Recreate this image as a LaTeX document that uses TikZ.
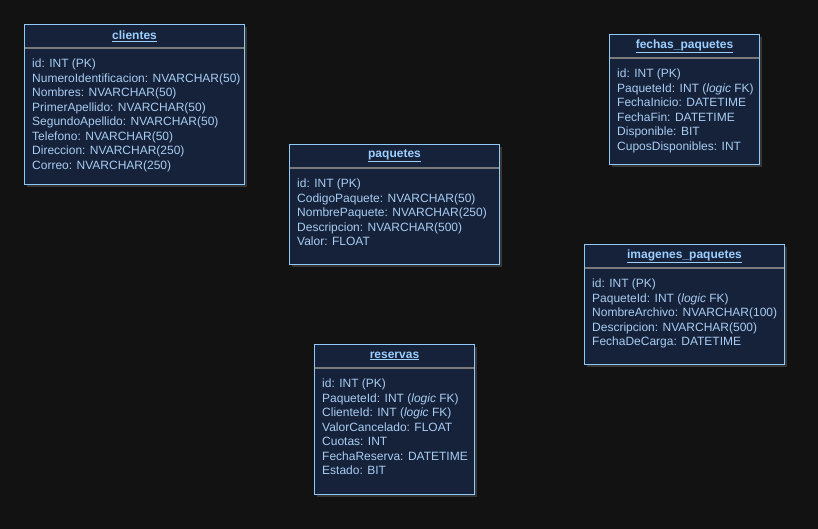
\documentclass[tikz,border=0pt]{standalone}
\usepackage{fontspec}
\setmainfont{Liberation Sans}
\usetikzlibrary{positioning,shadows,calc}
\definecolor{erBg}{HTML}{121212}
\definecolor{erFill}{HTML}{16223A}
\definecolor{erBorder}{HTML}{90CAF9}
\definecolor{erText}{HTML}{A8CCF2}
\definecolor{erTitleText}{HTML}{9CCFFF}
\definecolor{erSep}{HTML}{7A7A7A}
\definecolor{erShadow}{HTML}{3A3A3A}
\tikzset{
    erTable/.style={
        rectangle,
        draw=erBorder,
        line width=1pt,
        fill=erFill,
        anchor=north west,
        inner sep=0pt,
        drop shadow={shadow xshift=2.5pt, shadow yshift=-2.5pt, fill=erShadow, opacity=0.9}
    },
    erTitle/.style={font=\fontsize{12}{14}\selectfont\bfseries, text=erTitleText, inner sep=0pt},
    erRule/.style={draw=erSep, line width=1.2pt},
    erBody/.style={
        font=\fontsize{12}{14.5}\selectfont,
        text=erText,
        align=left,
        anchor=north west,
        inner sep=0pt
    }
}

\begin{document}
\begin{tikzpicture}[x=1pt, y=-1pt]
\fill[erBg] (0,0) rectangle (818,529);
\useasboundingbox (0,0) rectangle (818,529);

% clientes
\node[erTable, minimum width=220pt, minimum height=160pt] (clientes) at (24,24) {};
\node[erTitle] (clientesT) at ($(clientes.north)+(0,12)$) {\underline{clientes}};
\draw[erRule] ($(clientes.north west)+(1,24)$) -- ($(clientes.north east)+(-1,24)$);
\node[erBody] (clientesB) at ($(clientes.north west)+(8,35)$) {id: INT (PK)\\NumeroIdentificacion: NVARCHAR(50)\\Nombres: NVARCHAR(50)\\PrimerApellido: NVARCHAR(50)\\SegundoApellido: NVARCHAR(50)\\Telefono: NVARCHAR(50)\\Direccion: NVARCHAR(250)\\Correo: NVARCHAR(250)};

% paquetes
\node[erTable, minimum width=210pt, minimum height=120pt] (paquetes) at (289,144) {};
\node[erTitle] (paquetesT) at ($(paquetes.north)+(0,12)$) {\underline{paquetes}};
\draw[erRule] ($(paquetes.north west)+(1,24)$) -- ($(paquetes.north east)+(-1,24)$);
\node[erBody] (paquetesB) at ($(paquetes.north west)+(8,35)$) {id: INT (PK)\\CodigoPaquete: NVARCHAR(50)\\NombrePaquete: NVARCHAR(250)\\Descripcion: NVARCHAR(500)\\Valor: FLOAT};

% fechas_paquetes
\node[erTable, minimum width=150pt, minimum height=130pt] (fechas) at (609,34) {};
\node[erTitle] (fechasT) at ($(fechas.north)+(0,12)$) {\underline{fechas\_paquetes}};
\draw[erRule] ($(fechas.north west)+(1,24)$) -- ($(fechas.north east)+(-1,24)$);
\node[erBody] (fechasB) at ($(fechas.north west)+(8,35)$) {id: INT (PK)\\PaqueteId: INT (\textit{logic} FK)\\FechaInicio: DATETIME\\FechaFin: DATETIME\\Disponible: BIT\\CuposDisponibles: INT};

% imagenes_paquetes
\node[erTable, minimum width=200pt, minimum height=120pt] (imagenes) at (584,244) {};
\node[erTitle] (imagenesT) at ($(imagenes.north)+(0,12)$) {\underline{imagenes\_paquetes}};
\draw[erRule] ($(imagenes.north west)+(1,24)$) -- ($(imagenes.north east)+(-1,24)$);
\node[erBody] (imagenesB) at ($(imagenes.north west)+(8,35)$) {id: INT (PK)\\PaqueteId: INT (\textit{logic} FK)\\NombreArchivo: NVARCHAR(100)\\Descripcion: NVARCHAR(500)\\FechaDeCarga: DATETIME};

% reservas
\node[erTable, minimum width=160pt, minimum height=150pt] (reservas) at (314,344) {};
\node[erTitle] (reservasT) at ($(reservas.north)+(0,12)$) {\underline{reservas}};
\draw[erRule] ($(reservas.north west)+(1,24)$) -- ($(reservas.north east)+(-1,24)$);
\node[erBody] (reservasB) at ($(reservas.north west)+(8,35)$) {id: INT (PK)\\PaqueteId: INT (\textit{logic} FK)\\ClienteId: INT (\textit{logic} FK)\\ValorCancelado: FLOAT\\Cuotas: INT\\FechaReserva: DATETIME\\Estado: BIT};
\end{tikzpicture}
\end{document}
